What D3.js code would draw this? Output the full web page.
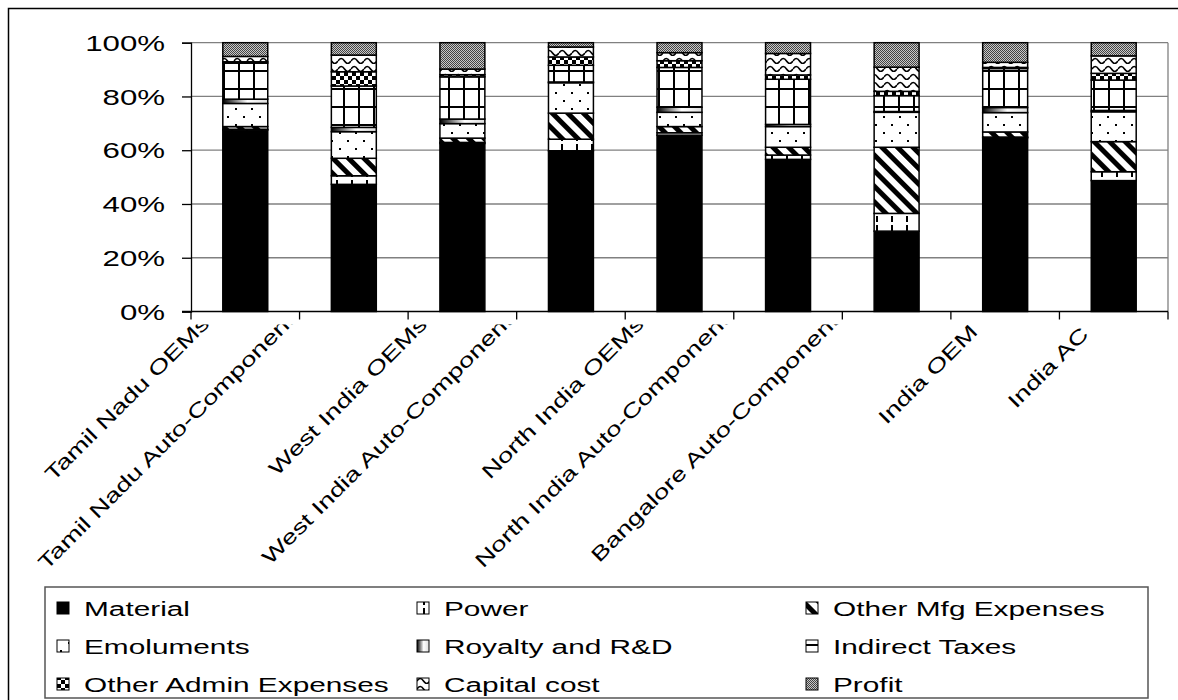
<!DOCTYPE html>
<html><head><meta charset="utf-8">
<script src="https://cdn.jsdelivr.net/npm/d3@7"></script>
<style>body{margin:0;background:#fff} text{font-family:"Liberation Sans",Arial,sans-serif;fill:#000}</style>
</head><body><svg id="c" width="1178" height="700"></svg>
<script>
// ---------------- data ----------------
const categories = ["Tamil Nadu OEMs","Tamil Nadu Auto-Components","West India OEMs","West India Auto-Components","North India OEMs","North India Auto-Components","Bangalore Auto-Components","India OEM","India AC"];
const seriesNames = ["Material","Power","Other Mfg Expenses","Emoluments","Royalty and R&D","Indirect Taxes","Other Admin Expenses","Capital cost","Profit"];
const material      = [67.5, 47.3, 62.5, 59.8, 65.6, 56.6, 29.9, 64.6, 48.7];
const power         = [0.3, 3.2, 0.4, 4.3, 0.9, 1.6, 6.6, 0.3, 3.3];
const otherMfg      = [1.0, 6.5, 1.6, 9.7, 2.3, 2.9, 24.6, 1.9, 11.2];
const emoluments    = [8.6, 9.9, 5.4, 11.3, 5.3, 7.7, 13.0, 7.2, 11.1];
const royalty       = [1.6, 1.6, 1.7, 0.3, 1.9, 0.8, 0.3, 1.9, 0.5];
const indirectTaxes = [13.4, 15.4, 15.7, 6.2, 14.8, 16.8, 5.9, 14.5, 11.3];
const otherAdmin    = [0.5, 5.3, 0.8, 3.1, 2.5, 1.6, 1.6, 0.4, 2.5];
const capitalCost   = [2.0, 6.2, 2.1, 3.7, 3.0, 8.0, 9.0, 1.9, 6.5];
const profit        = [5.1, 4.6, 9.8, 1.6, 3.7, 4.0, 9.1, 7.3, 4.9];
const yTickValues = [0, 0.2, 0.4, 0.6, 0.8, 1.0];

const seriesValues = [material, power, otherMfg, emoluments, royalty, indirectTaxes, otherAdmin, capitalCost, profit];
const patternIds = ["material","power","mfg","emol","roy","tax","admin","cap","profit"];

// ---------------- layout ----------------
const W = 1178, H = 700;
const plot = {left:191, right:1168, top:42.7, bottom:311.5};
const SX = 1.42; // wide text as seen in the reference

const svg = d3.select("#c");
const defs = svg.append("defs");

function pat(id, w, h, draw, transform){
  const p = defs.append("pattern").attr("id", id).attr("patternUnits","userSpaceOnUse")
    .attr("width", w).attr("height", h);
  if (transform) p.attr("patternTransform", transform);
  p.append("rect").attr("width", w).attr("height", h).attr("fill", "#fff");
  draw(p);
}
pat("power", 15, 9, p => {
  p.append("rect").attr("x", 6).attr("y", 0).attr("width", 2).attr("height", 6).attr("fill", "#000");
});
pat("mfg", 11, 11, p => {
  p.append("rect").attr("x", 0).attr("y", 0).attr("width", 5).attr("height", 11).attr("fill", "#000");
}, "rotate(-45)");
pat("emol", 16, 16, p => {
  p.append("rect").attr("x", 3).attr("y", 4).attr("width", 2).attr("height", 2).attr("fill", "#000");
  p.append("rect").attr("x", 11).attr("y", 12).attr("width", 2).attr("height", 2).attr("fill", "#000");
});
pat("tax", 15, 18, p => {
  p.append("rect").attr("x", 13).attr("y", 0).attr("width", 2).attr("height", 18).attr("fill", "#000");
  p.append("rect").attr("x", 0).attr("y", 16).attr("width", 15).attr("height", 2).attr("fill", "#000");
});
pat("admin", 8, 8, p => {
  p.append("rect").attr("x", 0).attr("y", 0).attr("width", 4).attr("height", 4).attr("fill", "#000");
  p.append("rect").attr("x", 4).attr("y", 4).attr("width", 4).attr("height", 4).attr("fill", "#000");
});
pat("cap", 13, 8, p => {
  p.append("path").attr("d", "M0,5 Q3.25,0 6.5,5 T13,5").attr("fill","none").attr("stroke","#000").attr("stroke-width",1.6);
});
pat("profit", 2, 2, p => {
  p.select("rect").attr("fill", "#c8c8c8");
  p.append("rect").attr("x", 0).attr("y", 0).attr("width", 1).attr("height", 1).attr("fill", "#444");
  p.append("rect").attr("x", 1).attr("y", 1).attr("width", 1).attr("height", 1).attr("fill", "#444");
});
const grad = defs.append("linearGradient").attr("id","roy").attr("x1","0").attr("x2","1").attr("y1","0").attr("y2","0");
grad.append("stop").attr("offset","0").attr("stop-color","#000");
grad.append("stop").attr("offset","0.55").attr("stop-color","#fff");
grad.append("stop").attr("offset","1").attr("stop-color","#ddd");

function fillFor(id){ return id === "material" ? "#000" : `url(#${id})`; }

// outer frame (right and bottom edges fall outside the picture)
svg.append("rect").attr("x", 8.5).attr("y", 8.5).attr("width", W).attr("height", H)
  .attr("fill", "none").attr("stroke", "#000").attr("stroke-width", 1.5);

// scales
const x = d3.scaleBand().domain(categories).range([plot.left, plot.right]).paddingInner(0.586).paddingOuter(0.293);
const xOuter = d3.scaleBand().domain(categories).range([plot.left, plot.right]);
const y = d3.scaleLinear().domain([0, 1]).range([plot.bottom, plot.top]);

// gridlines + plot edge
svg.append("g").selectAll("line").data(yTickValues.filter(v => v > 0)).join("line")
  .attr("x1", plot.left).attr("x2", plot.right).attr("y1", d => y(d)).attr("y2", d => y(d))
  .attr("stroke", "#808080").attr("stroke-width", 1.3);
svg.append("line").attr("x1", plot.right).attr("x2", plot.right).attr("y1", plot.top).attr("y2", plot.bottom)
  .attr("stroke", "#808080").attr("stroke-width", 1.3);

// stacked bars
const rows = categories.map((c, i) => {
  const o = {cat: c};
  seriesNames.forEach((s, j) => o[s] = seriesValues[j][i]);
  return o;
});
const layers = d3.stack().keys(seriesNames).offset(d3.stackOffsetExpand)(rows);

svg.append("g").selectAll("g").data(layers).join("g")
  .attr("fill", (d, i) => fillFor(patternIds[i]))
  .selectAll("rect").data(d => d).join("rect")
  .attr("x", d => x(d.data.cat)).attr("width", x.bandwidth())
  .attr("y", d => y(d[1])).attr("height", d => Math.max(0, y(d[0]) - y(d[1])))
  .attr("stroke", "#000").attr("stroke-width", 1.5);

// y axis
const yAxis = d3.axisLeft(y).tickValues(yTickValues).tickFormat(d3.format(".0%")).tickSize(9).tickPadding(17);
const yg = svg.append("g").attr("transform", `translate(${plot.left},0)`).call(yAxis);
yg.select(".domain").attr("stroke", "#000").attr("stroke-width", 1.3);
yg.selectAll(".tick line").attr("stroke", "#000").attr("stroke-width", 1.3);
yg.selectAll(".tick text").attr("font-size", 22).attr("font-family", "Liberation Sans, Arial, sans-serif")
  .attr("fill", "#000").attr("dy", "0.35em")
  .attr("transform", function(){ const xx = +d3.select(this).attr("x"); return `translate(${xx},0) scale(${SX},1) translate(${-xx},0)`; });

// x axis
const xAxisG = svg.append("g").attr("transform", `translate(0,${plot.bottom})`);
xAxisG.append("line").attr("x1", plot.left - 9).attr("x2", plot.right).attr("stroke", "#000").attr("stroke-width", 1.3);
const boundaries = categories.map(c => xOuter(c)).concat([plot.right]);
xAxisG.selectAll("line.tk").data(boundaries).join("line").attr("class","tk")
  .attr("x1", d => d).attr("x2", d => d).attr("y1", 0).attr("y2", 8)
  .attr("stroke", "#000").attr("stroke-width", 1.3);

// x labels: rotated 45°, right-aligned near each category, clipped just under the axis
const LSX = 1.38, LFS = 20;
defs.append("clipPath").attr("id", "labclip").append("rect")
  .attr("x", 0).attr("y", plot.bottom + 13).attr("width", W).attr("height", 300);
const lab = svg.append("g").attr("clip-path", "url(#labclip)");
const labels = lab.selectAll("text").data(categories).join("text")
  .attr("text-anchor", "end").attr("font-size", LFS).text(c => c);
labels.each(function(c){
  const lenEm = this.getComputedTextLength() * LSX / (LFS * 1.42);
  const shift = Math.max(0, 3.68 * lenEm - 13.5); // long labels sit higher (perpendicular)
  const cx = xOuter(c) + xOuter.bandwidth() / 2;
  d3.select(this).attr("y", -shift)
    .attr("transform", `translate(${cx - 24},${plot.bottom + 24}) rotate(-45) scale(${LSX},1)`);
});

// legend
const legend = {left:45, top:587, right:1148, bottom:698};
svg.append("rect").attr("x", legend.left).attr("y", legend.top)
  .attr("width", legend.right - legend.left).attr("height", legend.bottom - legend.top)
  .attr("fill", "#fff").attr("stroke", "#555").attr("stroke-width", 1.5);
const colX = [57, 417, 806];
const rowY = [608, 646, 684];
const lg = svg.append("g").selectAll("g").data(seriesNames).join("g")
  .attr("transform", (d, i) => `translate(${colX[i % 3]},${rowY[Math.floor(i / 3)]})`);
lg.append("rect").attr("x", 0).attr("y", -6).attr("width", 12).attr("height", 12)
  .attr("fill", (d, i) => fillFor(patternIds[i])).attr("stroke", "#000").attr("stroke-width", 1);
lg.append("text").attr("transform", `translate(27,0) scale(${SX},1)`).attr("dy", "0.36em")
  .attr("font-size", 21).text(d => d);
</script></body></html>
